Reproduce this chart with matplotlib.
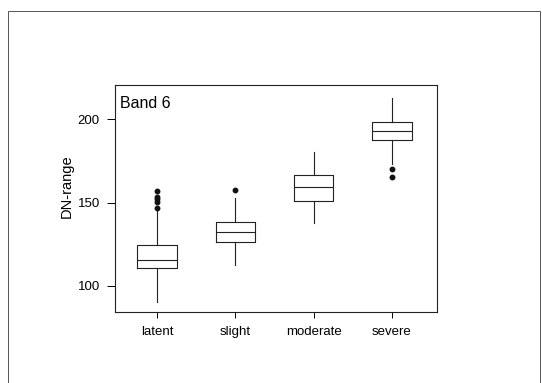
import matplotlib.pyplot as plt
from matplotlib.patches import Rectangle

plt.rcParams['font.family'] = ['Liberation Sans', 'DejaVu Sans']

# box statistics
groups = ['latent', 'slight', 'moderate', 'severe']
q1 = [110.6, 126.5, 151.1, 187.4]
med = [115.6, 132.5, 159.5, 193.0]
q3 = [124.6, 138.5, 166.5, 198.0]
whislo = [90.6, 112.5, 137.5, 173.0]
whishi = [145.5, 152.5, 180.4, 212.4]
fliers = [[147.0, 150.5, 152.0, 153.0, 157.0], [157.5], [], [170.0, 165.4]]

stats = []
for i in range(len(groups)):
    stats.append({'label': groups[i], 'q1': q1[i], 'med': med[i], 'q3': q3[i],
                  'whislo': whislo[i], 'whishi': whishi[i], 'fliers': fliers[i]})

fig = plt.figure(figsize=(5.42, 3.83), dpi=100)
# outer frame of the scanned figure
fig.patches.append(Rectangle((8 / 542, -0.1), 532 / 542, 1.1 - 11 / 383,
                             transform=fig.transFigure, fill=False,
                             edgecolor='#555555', linewidth=0.7))

ax = fig.add_axes([115 / 542, 71 / 383, 322 / 542, 227 / 383])
line = dict(color='#222222', linewidth=0.8)
ax.bxp(stats, positions=[1, 2, 3, 4], widths=0.5, showcaps=False,
       boxprops=line, whiskerprops=line, medianprops=line,
       flierprops=dict(marker='o', markerfacecolor='#111111',
                       markeredgecolor='#111111', markersize=3.2))

ax.set_xlim(0.464, 4.575)
ax.set_ylim(84.4, 220.4)
ax.set_yticks([100, 150, 200])
ax.tick_params(axis='y', length=6, width=0.7, labelsize=9.5, pad=5)
ax.tick_params(axis='x', length=4, width=0.7, labelsize=9.5, pad=6)
for s in ax.spines.values():
    s.set_linewidth(0.8)
    s.set_color('#222222')

ax.set_ylabel('DN-range', fontsize=10.5)
ax.yaxis.set_label_coords(-0.127, 0.555)
ax.text(0.016, 0.95, 'Band 6', transform=ax.transAxes, fontsize=11.5,
        ha='left', va='top')

fig.savefig('out.png', dpi=100)
